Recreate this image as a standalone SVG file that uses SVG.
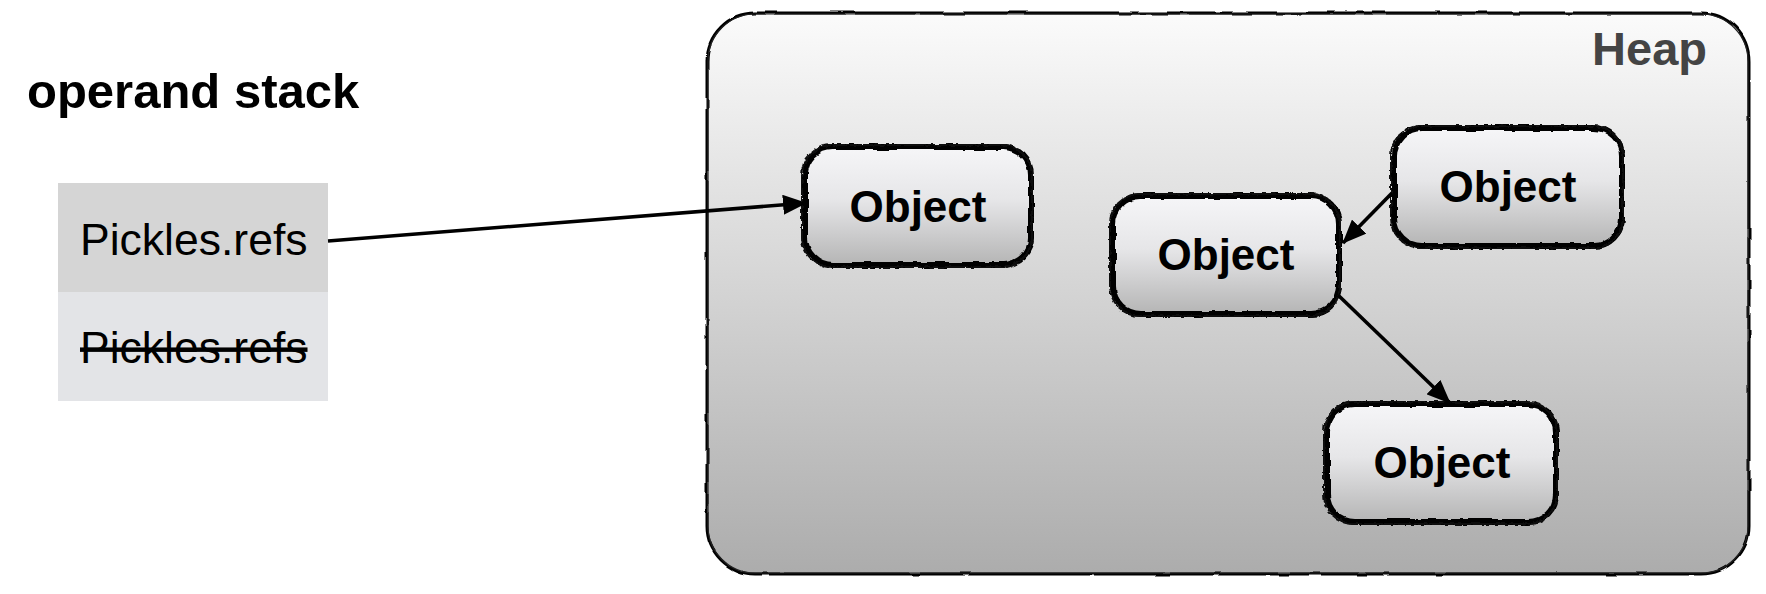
<svg xmlns="http://www.w3.org/2000/svg" width="1766" height="594" viewBox="0 0 1766 594">
<style>
.title{font-family:"Liberation Sans",Arial,sans-serif;font-weight:bold;font-size:49px;fill:#000}
.cell{font-family:"Liberation Sans",Arial,sans-serif;font-size:44.5px;fill:#000}
.obj{font-family:"Liberation Sans",Arial,sans-serif;font-weight:bold;font-size:44px;fill:#000;text-anchor:middle}
.heapt{font-family:"Liberation Sans",Arial,sans-serif;font-weight:bold;font-size:47px;fill:#444;text-anchor:end}
.nfill{fill:url(#ng)}
.nstroke{fill:none;stroke:#000;stroke-width:6;filter:url(#rough)}
.nstroke2{fill:none;stroke:#111;stroke-width:2;filter:url(#rough2)}
.conn{stroke:#000;stroke-width:3.6;fill:none;marker-end:url(#ah)}
</style>
<defs>
<linearGradient id="hg" x1="0" y1="0" x2="0" y2="1">
<stop offset="0" stop-color="#fbfbfb"/>
<stop offset="1" stop-color="#acacac"/>
</linearGradient>
<linearGradient id="ng" x1="0" y1="0" x2="0" y2="1">
<stop offset="0" stop-color="#f6f6f8"/>
<stop offset="0.45" stop-color="#e6e6e8"/>
<stop offset="1" stop-color="#b4b4b4"/>
</linearGradient>
<filter id="rough" x="-10%" y="-10%" width="120%" height="120%">
<feTurbulence type="fractalNoise" baseFrequency="0.09" numOctaves="2" seed="3" result="n"/>
<feDisplacementMap in="SourceGraphic" in2="n" scale="4" xChannelSelector="R" yChannelSelector="G"/>
</filter>
<filter id="rough2" x="-10%" y="-10%" width="120%" height="120%">
<feTurbulence type="fractalNoise" baseFrequency="0.2" numOctaves="2" seed="7" result="n"/>
<feDisplacementMap in="SourceGraphic" in2="n" scale="4" xChannelSelector="R" yChannelSelector="G"/>
</filter>
<filter id="roughh" x="-5%" y="-5%" width="110%" height="110%">
<feTurbulence type="fractalNoise" baseFrequency="0.04" numOctaves="2" seed="5" result="n"/>
<feDisplacementMap in="SourceGraphic" in2="n" scale="3" xChannelSelector="R" yChannelSelector="G"/>
</filter>
<marker id="ah" markerUnits="userSpaceOnUse" markerWidth="24" markerHeight="20" viewBox="0 0 24 20" refX="23" refY="10" orient="auto">
<path d="M0,0 L24,10 L0,20 Z" fill="#000"/>
</marker>
</defs>

<g id="operand-stack-title">
<text class="title" x="27" y="108">operand stack</text>
</g>

<g id="stack-cell-1">
<rect x="58" y="183" width="270" height="109" fill="#d5d5d5"/>
<text class="cell" x="80" y="255">Pickles.refs</text>
</g>

<g id="stack-cell-2">
<rect x="58" y="292" width="270" height="109" fill="#e3e4e7"/>
<text class="cell" x="80" y="363" text-decoration="line-through">Pickles.refs</text>
</g>

<g id="heap">
<rect x="707" y="13" width="1042" height="561" rx="48" fill="url(#hg)"/>
<rect x="707" y="13" width="1042" height="561" rx="48" fill="none" stroke="#000" stroke-width="3" filter="url(#roughh)"/>
<rect x="708" y="14" width="1040" height="559" rx="47" fill="none" stroke="#222" stroke-width="1.2"/>
<text class="heapt" x="1707" y="65">Heap</text>
</g>

<g id="object-1">
<rect class="nfill" x="804" y="146" width="228" height="120" rx="28"/>
<rect class="nstroke" x="805" y="147" width="226" height="118" rx="28"/>
<rect class="nstroke2" x="802" y="145" width="230" height="122" rx="30"/>
<text class="obj" x="918" y="222">Object</text>
</g>

<g id="object-2">
<rect class="nfill" x="1112" y="195" width="228" height="120" rx="28"/>
<rect class="nstroke" x="1113" y="196" width="226" height="118" rx="28"/>
<rect class="nstroke2" x="1110" y="194" width="230" height="122" rx="30"/>
<text class="obj" x="1226" y="270">Object</text>
</g>

<g id="object-3">
<rect class="nfill" x="1393" y="127" width="230" height="120" rx="28"/>
<rect class="nstroke" x="1394" y="128" width="228" height="118" rx="28"/>
<rect class="nstroke2" x="1391" y="126" width="232" height="122" rx="30"/>
<text class="obj" x="1508" y="202">Object</text>
</g>

<g id="object-4">
<rect class="nfill" x="1326" y="403" width="231" height="120" rx="28"/>
<rect class="nstroke" x="1327" y="404" width="229" height="118" rx="28"/>
<rect class="nstroke2" x="1324" y="402" width="233" height="122" rx="30"/>
<text class="obj" x="1442" y="478">Object</text>
</g>

<g id="connectors">
<line class="conn" x1="328" y1="241" x2="806" y2="203"/>
<line class="conn" x1="1392" y1="193" x2="1343" y2="243"/>
<line class="conn" x1="1338" y1="295" x2="1450" y2="403"/>
</g>
</svg>
